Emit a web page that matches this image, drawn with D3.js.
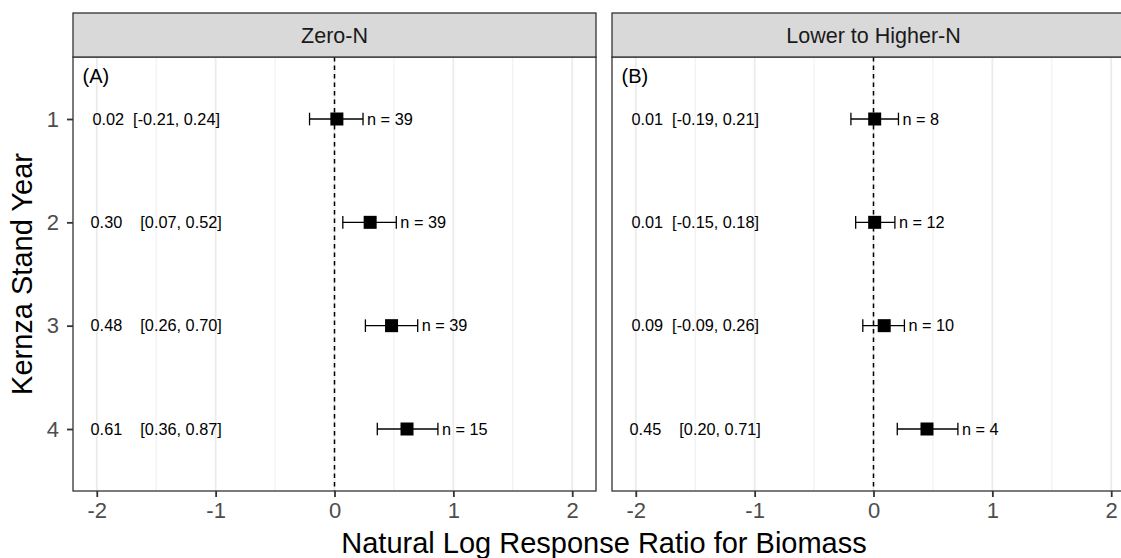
<!DOCTYPE html>
<html>
<head>
<meta charset="utf-8">
<script src="https://cdn.jsdelivr.net/npm/d3@7"></script>
<style>
  html, body { margin: 0; padding: 0; background: #fff; }
  svg { display: block; font-family: "Liberation Sans", Arial, sans-serif; }
</style>
</head>
<body>
<svg id="chart" width="1121" height="558"></svg>
<script>
// ---- data ----
const years = [1, 2, 3, 4];
const panelTitles = ["Zero-N", "Lower to Higher-N"];
const panelTags = ["(A)", "(B)"];

const estZeroN = [0.02, 0.30, 0.48, 0.61];
const lowZeroN = [-0.21, 0.07, 0.26, 0.36];
const highZeroN = [0.24, 0.52, 0.70, 0.87];
const nZeroN = [39, 39, 39, 15];

const estHigherN = [0.01, 0.01, 0.09, 0.45];
const lowHigherN = [-0.19, -0.15, -0.09, 0.20];
const highHigherN = [0.21, 0.18, 0.26, 0.71];
const nHigherN = [8, 12, 10, 4];

const xTickValues = [-2, -1, 0, 1, 2];
const xMinorValues = [-1.5, -0.5, 0.5, 1.5];

const xTitle = "Natural Log Response Ratio for Biomass";
const yTitle = "Kernza Stand Year";

// ---- layout ----
const svg = d3.select("#chart");
const panelW = 523;
const panelLefts = [73, 612];
const stripTop = 13, stripBottom = 57, panelBottom = 491;

const y = d3.scaleLinear().domain([0.4, 4.6]).range([stripBottom, panelBottom]);

const panelsData = [
  { est: estZeroN, lo: lowZeroN, hi: highZeroN, n: nZeroN },
  { est: estHigherN, lo: lowHigherN, hi: highHigherN, n: nHigherN }
];

panelsData.forEach((pd, pi) => {
  const left = panelLefts[pi];
  const x = d3.scaleLinear().domain([-2.2, 2.2]).range([left, left + panelW]);
  const g = svg.append("g");

  g.append("rect").attr("x", left).attr("y", stripBottom)
    .attr("width", panelW).attr("height", panelBottom - stripBottom).attr("fill", "#fff");

  // minor grid
  g.selectAll(".minor").data(xMinorValues).enter().append("line")
    .attr("x1", d => x(d)).attr("x2", d => x(d))
    .attr("y1", stripBottom).attr("y2", panelBottom)
    .attr("stroke", "#F0F0F0").attr("stroke-width", 1.1);
  // major grid
  g.selectAll(".major").data(xTickValues).enter().append("line")
    .attr("x1", d => x(d)).attr("x2", d => x(d))
    .attr("y1", stripBottom).attr("y2", panelBottom)
    .attr("stroke", "#EBEBEB").attr("stroke-width", 1.8);

  // dashed zero line
  g.append("line").attr("x1", x(0)).attr("x2", x(0))
    .attr("y1", stripBottom).attr("y2", panelBottom)
    .attr("stroke", "#000").attr("stroke-width", 1.5)
    .attr("stroke-dasharray", "4.5,4");

  // panel tag
  g.append("text").attr("x", x(-2.12)).attr("y", y(0.655))
    .attr("font-size", 20).attr("fill", "#000").text(panelTags[pi]);

  // labels: estimate and CI
  g.selectAll(".ci").data(years).enter().append("text")
    .attr("x", x(-1.5)).attr("y", d => y(d) + 5.8)
    .attr("text-anchor", "middle").attr("font-size", 16.3).attr("fill", "#000")
    .style("white-space", "pre")
    .text((d, i) => pd.est[i].toFixed(2) + (pd.lo[i] < 0 ? "  [" : "    [") +
      pd.lo[i].toFixed(2) + ", " + pd.hi[i].toFixed(2) + "]");

  // error bars
  const eb = g.selectAll(".eb").data(years).enter().append("g");
  eb.append("line").attr("x1", (d, i) => x(pd.lo[i])).attr("x2", (d, i) => x(pd.hi[i]))
    .attr("y1", d => y(d)).attr("y2", d => y(d)).attr("stroke", "#000").attr("stroke-width", 1.3);
  eb.append("line").attr("x1", (d, i) => x(pd.lo[i])).attr("x2", (d, i) => x(pd.lo[i]))
    .attr("y1", d => y(d) - 6.3).attr("y2", d => y(d) + 6.3).attr("stroke", "#000").attr("stroke-width", 1.3);
  eb.append("line").attr("x1", (d, i) => x(pd.hi[i])).attr("x2", (d, i) => x(pd.hi[i]))
    .attr("y1", d => y(d) - 6.3).attr("y2", d => y(d) + 6.3).attr("stroke", "#000").attr("stroke-width", 1.3);
  // points
  eb.append("rect").attr("x", (d, i) => x(pd.est[i]) - 6.5).attr("y", d => y(d) - 6.5)
    .attr("width", 13).attr("height", 13).attr("fill", "#000");
  // n labels
  eb.append("text").attr("x", (d, i) => x(pd.hi[i]) + 4).attr("y", d => y(d) + 5.5)
    .attr("font-size", 16.3).attr("fill", "#000").text((d, i) => "n = " + pd.n[i]);

  // panel border
  g.append("rect").attr("x", left).attr("y", stripBottom)
    .attr("width", panelW).attr("height", panelBottom - stripBottom)
    .attr("fill", "none").attr("stroke", "#333").attr("stroke-width", 1.3);

  // strip
  g.append("rect").attr("x", left).attr("y", stripTop)
    .attr("width", panelW).attr("height", stripBottom - stripTop)
    .attr("fill", "#D9D9D9").attr("stroke", "#333").attr("stroke-width", 1.3);
  g.append("text").attr("x", left + panelW / 2).attr("y", (stripTop + stripBottom) / 2 + 7.5)
    .attr("text-anchor", "middle").attr("font-size", 21.5).attr("fill", "#1A1A1A")
    .text(panelTitles[pi]);

  // x axis
  const xAxis = d3.axisBottom(x).tickValues(xTickValues).tickSize(6).tickPadding(5)
    .tickFormat(d => d < 0 ? "-" + Math.abs(d) : String(d));
  const ax = svg.append("g").attr("transform", `translate(0,${panelBottom})`).call(xAxis);
  ax.select(".domain").remove();
  ax.selectAll(".tick line").attr("stroke", "#333").attr("stroke-width", 1.8);
  ax.selectAll(".tick text").attr("font-size", 22).attr("fill", "#4D4D4D")
    .attr("font-family", "'Liberation Sans', Arial, sans-serif");
});

// y axis (left panel only)
const yAxis = d3.axisLeft(y).tickValues(years).tickSize(6).tickPadding(8)
  .tickFormat(d3.format("d"));
const ay = svg.append("g").attr("transform", `translate(${panelLefts[0]},0)`).call(yAxis);
ay.select(".domain").remove();
ay.selectAll(".tick line").attr("stroke", "#333").attr("stroke-width", 1.8);
ay.selectAll(".tick text").attr("font-size", 22).attr("fill", "#4D4D4D")
  .attr("font-family", "'Liberation Sans', Arial, sans-serif");

// axis titles
svg.append("text").attr("x", (panelLefts[0] + panelLefts[1] + panelW) / 2).attr("y", 553)
  .attr("text-anchor", "middle").attr("font-size", 29).attr("fill", "#000").text(xTitle);
svg.append("text").attr("transform", `translate(32,${(stripBottom + panelBottom) / 2}) rotate(-90)`)
  .attr("text-anchor", "middle").attr("font-size", 29).attr("fill", "#000").text(yTitle);
</script>
</body>
</html>
